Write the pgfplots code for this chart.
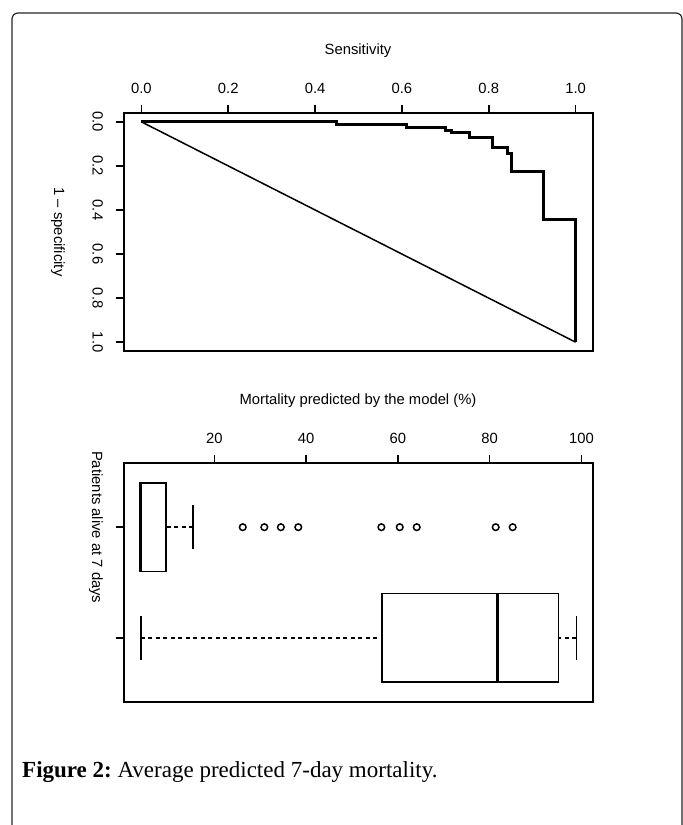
\documentclass[border=0pt]{standalone}
\usepackage{fontspec}
\setmainfont{Liberation Serif}
\newfontfamily\plotfont{Liberation Sans}
\usepackage{pgfplots}
\pgfplotsset{compat=1.18}
\usepgfplotslibrary{statistics}
\newcommand\pf{\plotfont\fontsize{14.8}{17}\selectfont}
\begin{document}
\begin{tikzpicture}
\useasboundingbox (0,0) rectangle (683pt,-825pt);
\draw[line width=1.2pt, black!85, rounded corners=6pt] (12pt,-840pt) -- (12pt,-13pt) -- (682pt,-13pt) -- (682pt,-840pt);
\pgfplotsset{
  myaxis/.style={
    scale only axis, anchor=north west,
    axis line style={line width=1.5pt},
    every tick/.style={line width=1.5pt, black},
    tick align=outside, major tick length=8.5pt,
    xtick pos=upper, xticklabel pos=upper, ytick pos=left,
    /pgf/number format/assume math mode=true,
    tick label style={font=\pf},
    xticklabel style={yshift=7pt},
    yticklabel style={xshift=-9pt, rotate=-90, anchor=north},
    clip=true,
  }
}
% ---- ROC panel
\begin{axis}[myaxis, at={(124pt,-113pt)}, width=469pt, height=238pt,
  xmin=-0.04, xmax=1.04, ymin=-0.04, ymax=1.04, y dir=reverse,
  xtick={0,0.2,0.4,0.6,0.8,1}, ytick={0,0.2,0.4,0.6,0.8,1},
  xticklabels={0.0,0.2,0.4,0.6,0.8,1.0}, yticklabels={0.0,0.2,0.4,0.6,0.8,1.0}]
\addplot[line width=1.5pt] coordinates {(0,0) (1,1)};
\addplot[line width=3pt, line join=miter] coordinates {
(0,0) (0.449,0) (0.449,0.010) (0.610,0.010) (0.610,0.025) (0.701,0.025)
(0.701,0.040) (0.714,0.040) (0.714,0.050) (0.755,0.050) (0.755,0.071)
(0.808,0.071) (0.808,0.118) (0.843,0.118) (0.843,0.145) (0.853,0.145)
(0.853,0.226) (0.927,0.226) (0.927,0.445) (1,0.445) (1,1)};
\end{axis}
\node[font=\pf] at (358pt,-51pt) {Sensitivity};
\node[font=\pf, rotate=-90] at (58pt,-232pt) {1 \textendash\ specificity};
% ---- Box plot panel
\begin{axis}[myaxis, at={(124pt,-463pt)}, width=469pt, height=239pt,
  xmin=0.33, xmax=102.5, ymin=0.42, ymax=2.58, y dir=reverse,
  xtick={20,40,60,80,100}, ytick={1,2},
  yticklabels={Patients alive at 7 days,{}},
  boxplot/draw direction=x,
  boxplot/box extend=0.8,
  boxplot/whisker extend=0.4,
  boxplot/every median/.style={line width=3pt},
  boxplot/every box/.style={line width=1.5pt},
  boxplot/draw/lower whisker/.code={
    \draw[line width=1.5pt, dash pattern=on 4pt off 3.5pt]
      (boxplot box cs:\pgfplotsboxplotvalue{lower whisker},0.5) --
      (boxplot box cs:\pgfplotsboxplotvalue{lower quartile},0.5);
    \draw[line width=1.5pt]
      (boxplot whisker cs:\pgfplotsboxplotvalue{lower whisker},0) --
      (boxplot whisker cs:\pgfplotsboxplotvalue{lower whisker},1);
  },
  boxplot/draw/upper whisker/.code={
    \draw[line width=1.5pt, dash pattern=on 4pt off 3.5pt]
      (boxplot box cs:\pgfplotsboxplotvalue{upper whisker},0.5) --
      (boxplot box cs:\pgfplotsboxplotvalue{upper quartile},0.5);
    \draw[line width=1.5pt]
      (boxplot whisker cs:\pgfplotsboxplotvalue{upper whisker},0) --
      (boxplot whisker cs:\pgfplotsboxplotvalue{upper whisker},1);
  },
]
\addplot[black, boxplot prepared={draw position=1,
  lower whisker=3.7, lower quartile=3.7, median=3.85,
  upper quartile=9.5, upper whisker=15.4}] coordinates {};
\addplot[black, boxplot prepared={draw position=2,
  lower whisker=4.0, lower quartile=56.5, median=81.7,
  upper quartile=95.0, upper whisker=98.9}] coordinates {};
\addplot[only marks, mark=o, mark size=3.3pt, line width=1.5pt, black] coordinates {
(26.2,1) (30.9,1) (34.5,1) (38.3,1) (56.4,1) (60.4,1) (64.1,1) (81.3,1) (85.0,1)};
\end{axis}
\node[font=\pf] at (358pt,-401pt) {Mortality predicted by the model (\%)};
% ---- caption
\node[anchor=base west, inner sep=0pt, font=\fontsize{23}{26}\selectfont] at (22pt,-777pt)
  {\textbf{Figure 2:}~Average predicted 7-day mortality.};
\end{tikzpicture}
\end{document}
